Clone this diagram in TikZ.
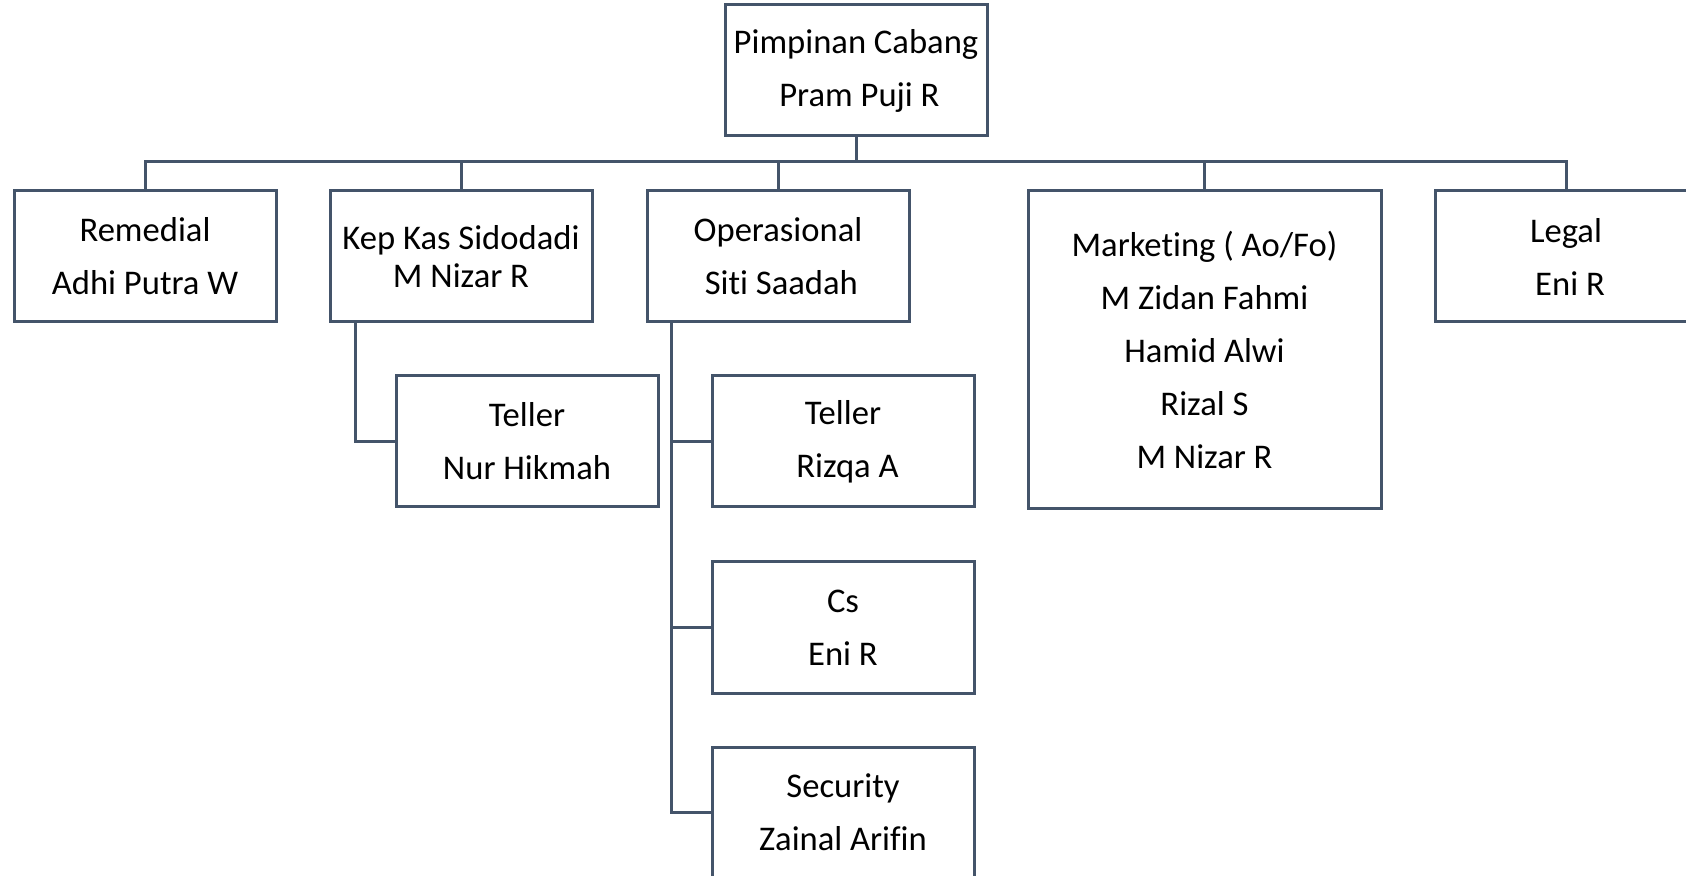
\documentclass[tikz,border=0pt]{standalone}
\usepackage{fontspec}
\setmainfont[Ligatures=NoCommon]{Carlito}
\usetikzlibrary{calc}
\definecolor{linec}{HTML}{44546A}
\tikzset{
  box/.style={draw=linec, line width=1.5pt, rectangle, inner sep=0pt,
    minimum width=131pt, minimum height=65.5pt, align=center,
    font=\fontsize{17.3}{26.5}\selectfont, text=black},
  tightbox/.style={box, font=\fontsize{17.3}{19.3}\selectfont},
  conn/.style={draw=linec, line width=1.5pt}
}
\begin{document}
\begin{tikzpicture}[x=0.5pt,y=-0.5pt]
\useasboundingbox (0,0) rectangle (1686,876);
\clip (0,0) rectangle (1686,876);
\fill[white] (0,0) rectangle (1686,876);

\node[box] (top) at (856,70.5) {Pimpinan Cabang\\\hspace*{3.4pt}Pram Puji R};
\node[box] (remedial) at (145,256.5) {Remedial\\Adhi Putra W};
\node[tightbox] (kepkas) at (461,256.5) {Kep Kas Sidodadi\\M Nizar R};
\node[box] (ops) at (778,256.5) {Operasional\\\hspace*{3.4pt}Siti Saadah};
\node[box, minimum width=176.5pt, minimum height=159pt] (marketing) at (1204.5,350)
  {Marketing ( Ao/Fo)\\M Zidan Fahmi\\Hamid Alwi\\Rizal S\\M Nizar R};
\node[box] (legal) at (1566,256.5) {Legal\\\hspace*{4pt}Eni R};
\node[box] (teller1) at (527,441.5) {Teller\\Nur Hikmah};
\node[box] (teller2) at (843,441.5) {Teller\\\hspace*{4.5pt}Rizqa A};
\node[box] (cs) at (843,627.5) {Cs\\Eni R};
\node[box] (security) at (843,812.5) {Security\\Zainal Arifin};

\foreach \c in {remedial,kepkas,ops,marketing,legal}{
  \draw[conn] (top.south) |- ($(\c.north)+(0,-28)$) -- (\c.north);
}
\draw[conn] ($(kepkas.south west)+(27,0)$) |- (teller1.west);
\draw[conn] ($(ops.south west)+(26,0)$) |- (teller2.west);
\draw[conn] ($(ops.south west)+(26,0)$) |- (cs.west);
\draw[conn] ($(ops.south west)+(26,0)$) |- (security.west);
\end{tikzpicture}
\end{document}
